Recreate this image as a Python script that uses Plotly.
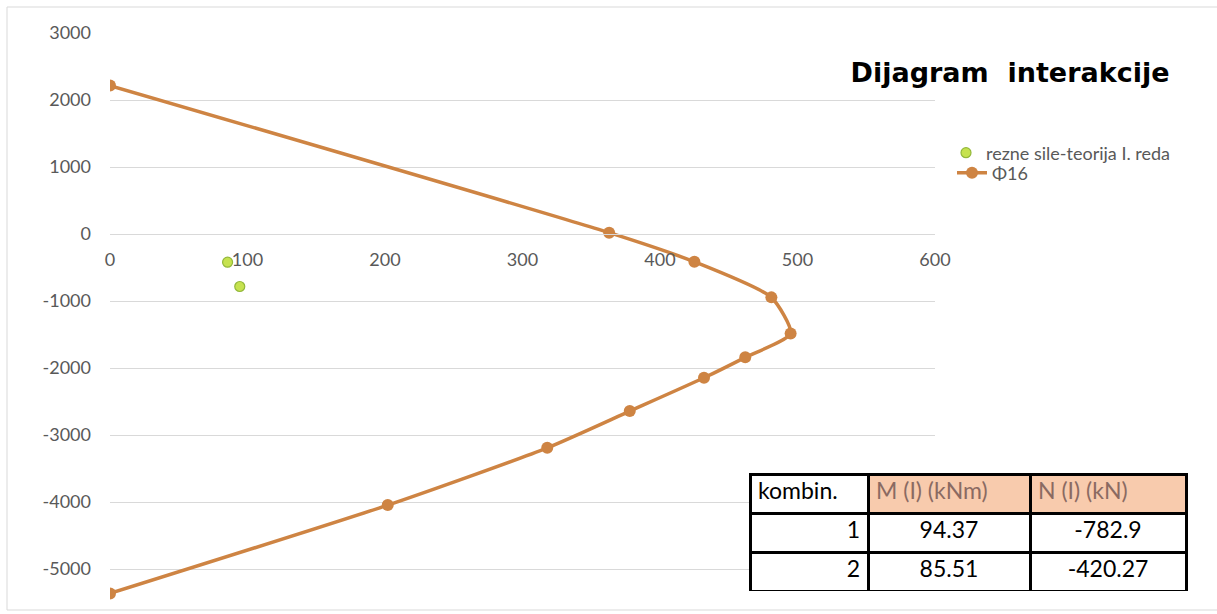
import plotly.graph_objects as go

# Interaction diagram for Φ16
M_phi16 = [0, 363, 425, 481, 495, 462, 432, 378, 318, 202, 0]
N_phi16 = [2215, 20, -415, -945, -1485, -1840, -2145, -2642, -3190, -4045, -5363]

# Internal forces - first order theory
kombin = [1, 2]
M_I = [94.37, 85.51]
N_I = [-782.9, -420.27]

x_ticks = [0, 100, 200, 300, 400, 500, 600]
y_ticks = [3000, 2000, 1000, 0, -1000, -2000, -3000, -4000, -5000]

W, H = 1217, 614
FONT = "Lato"
GRAY = "#595959"
ORANGE = "#CE8443"

fig = go.Figure()

fig.add_trace(go.Scatter(
    x=M_I, y=N_I, mode="markers", name="rezne sile-teorija I. reda",
    marker=dict(size=10, color="#C6E24F", line=dict(color="#93B83A", width=1.2)),
    legend="legend",
))
fig.add_trace(go.Scatter(
    x=M_phi16, y=N_phi16, mode="lines+markers", name="Φ16",
    line=dict(color=ORANGE, width=3.5, shape="spline", smoothing=0.6),
    marker=dict(size=12, color=ORANGE),
    legend="legend2",
))

fig.add_trace(go.Table(
    domain=dict(x=[750 / W, 1186 / W], y=[1 - 592 / H, 1 - 474 / H]),
    columnwidth=[118, 162, 156],
    header=dict(
        values=["kombin.", "M (I) (kNm)", "N (I) (kN)"],
        fill_color=["white", "#F8CBAD", "#F8CBAD"],
        line=dict(color="black", width=3),
        align=["left", "left", "left"],
        font=dict(family=FONT, size=23, color=["black", "#8A6A62", "#8A6A62"]),
        height=39,
    ),
    cells=dict(
        values=[kombin, [f"{v:.2f}" for v in M_I], [f"{v:g}" for v in N_I]],
        fill_color="white",
        line=dict(color="black", width=3),
        align=["right", "center", "center"],
        font=dict(family=FONT, size=23, color="black"),
        height=39,
    ),
))

fig.update_layout(
    width=W, height=H,
    margin=dict(l=0, r=0, t=0, b=0),
    paper_bgcolor="white", plot_bgcolor="white",
    font=dict(family=FONT, color=GRAY, size=18),
    title=dict(
        text="Dijagram&nbsp; interakcije",
        x=1010 / W, y=1 - 73 / H, xanchor="center", yanchor="middle",
        xref="paper", yref="paper",
        font=dict(family="DejaVu Sans", size=27, color="black", weight="bold"),
    ),
    xaxis=dict(
        domain=[110 / W, 935 / W], range=[0, 600],
        tickvals=x_ticks, ticktext=[str(v) for v in x_ticks],
        anchor="free", position=1 - 234 / H,
        showgrid=False, zeroline=False,
        showline=True, linecolor="#D9D9D9", linewidth=1,
        ticks="", ticklabelstandoff=9,
        tickfont=dict(family=FONT, size=18, color=GRAY),
        automargin=False, fixedrange=True,
    ),
    yaxis=dict(
        domain=[0, 1 - 33 / H], range=[-5670, 3000],
        tickvals=y_ticks, ticktext=[str(v) for v in y_ticks],
        showgrid=True, gridcolor="#D9D9D9", gridwidth=1,
        zeroline=False, showline=False,
        ticks="", ticklabelstandoff=18,
        tickfont=dict(family=FONT, size=18, color=GRAY),
        automargin=False, fixedrange=True,
    ),
    legend=dict(
        x=946 / W, y=1 - 153 / H, xanchor="left", yanchor="middle",
        bgcolor="rgba(0,0,0,0)", font=dict(family=FONT, size=18, color=GRAY),
        borderwidth=0,
    ),
    legend2=dict(
        x=952 / W, y=1 - 173 / H, xanchor="left", yanchor="middle",
        bgcolor="rgba(0,0,0,0)", font=dict(family=FONT, size=18, color=GRAY),
        borderwidth=0,
    ),
    showlegend=True,
    shapes=[dict(
        type="rect", xref="paper", yref="paper",
        x0=7 / W, x1=1.01, y0=1 - 610 / H, y1=1 - 7 / H,
        line=dict(color="#D9D9D9", width=1), fillcolor="rgba(0,0,0,0)",
        layer="below",
    )],
)

fig.write_html("out.html", config={"displayModeBar": False},
               post_script="document.body.style.margin='0px';")
